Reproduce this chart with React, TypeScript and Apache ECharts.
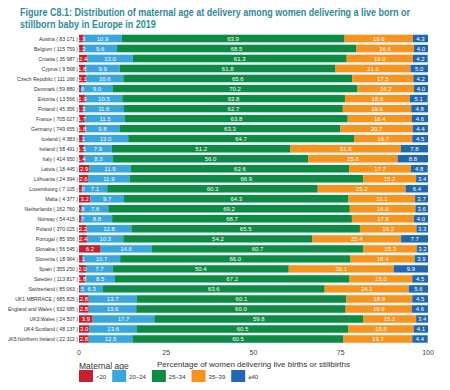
import React, { useEffect, useRef } from "react";
import * as echarts from "echarts";

const countries = [
  "Austria", "Belgium", "Croatia", "Cyprus", "Czech Republic", "Denmark", "Estonia", "Finland",
  "France", "Germany", "Iceland", "Ireland", "Italy", "Latvia", "Lithuania", "Luxembourg", "Malta",
  "Netherlands", "Norway", "Poland", "Portugal", "Slovakia", "Slovenia", "Spain", "Sweden",
  "Switzerland", "UK1 MBRRACE", "UK2:England and Wales", "UK3:Wales", "UK4:Scotland", "UK5:Northern Ireland",
];
const births = [
  "83 171", "115 759", "35 987", "9 568", "111 166", "59 880", "13 566", "45 356",
  "705 027", "749 655", "4 383", "58 491", "414 950", "18 445", "24 394", "7 105", "4 377",
  "162 760", "54 415", "370 025", "85 956", "56 545", "18 964", "355 250", "113 817",
  "85 063", "685 825", "632 685", "24 507", "48 137", "22 312",
];
const under20 = [1.3, 1.3, 2.4, 1.8, 2.1, 0.6, 1.9, 1.3, 1.7, 1.8, 1.1, 1.5, 1.4, 2.9, 2.6, 1.0, 3.2, 0.8, 0.7, 2.2, 2.4, 6.2, 1.1, 2.0, 1.8, 0.5, 2.8, 2.8, 3.9, 3.0, 2.8];
const age20to24 = [10.9, 9.6, 13.0, 9.9, 10.6, 9.0, 10.5, 11.6, 11.5, 9.8, 13.0, 7.9, 8.3, 11.9, 11.9, 7.1, 9.7, 7.6, 8.8, 12.8, 10.3, 14.6, 10.7, 7.7, 8.5, 6.3, 13.7, 13.6, 17.7, 13.6, 12.5];
const age25to34 = [63.9, 68.5, 61.3, 61.8, 65.6, 70.2, 63.8, 62.7, 63.8, 63.3, 64.7, 51.2, 56.0, 62.6, 66.9, 60.3, 64.3, 69.2, 68.7, 65.5, 54.2, 60.7, 66.0, 50.4, 67.2, 63.6, 60.1, 60.0, 59.8, 60.5, 60.5];
const age35to39 = [19.6, 16.6, 19.0, 21.5, 17.5, 16.2, 18.6, 19.6, 18.4, 20.7, 16.7, 31.6, 25.6, 17.7, 15.2, 25.2, 19.1, 18.8, 17.8, 16.2, 25.4, 15.3, 18.4, 30.1, 18.0, 24.1, 18.9, 19.0, 15.2, 18.8, 19.7];
const age40plus = [4.3, 4.0, 4.2, 5.0, 4.2, 4.0, 5.1, 4.8, 4.6, 4.4, 4.5, 7.8, 8.8, 4.8, 3.4, 6.4, 3.7, 3.6, 4.0, 3.3, 7.7, 3.2, 3.9, 9.9, 4.5, 5.6, 4.5, 4.6, 3.4, 4.1, 4.4];

const seriesNames = ["<20", "20\u201324", "25\u201334", "35\u201339", "\u226540"];
const seriesColors = ["#c8202f", "#3aa6dd", "#0f8a44", "#f7941d", "#2066b0"];
const xTicks = [0, 25, 50, 75, 100];

export default function App() {
  const ref = useRef<HTMLDivElement>(null);
  useEffect(() => {
    if (!ref.current) return;
    const chart = echarts.init(ref.current, undefined, { renderer: "svg" });
    const values = [under20, age20to24, age25to34, age35to39, age40plus];
    const labels = countries.map((c, i) => `${c} ( ${births[i]} )`);
    chart.setOption({
      animation: false,
      backgroundColor: "#ffffff",
      grid: {
        left: 79,
        right: 22,
        top: 33.5,
        bottom: 46,
        show: true,
        backgroundColor: "#e8f6f8",
        borderWidth: 0,
        containLabel: false,
        outerBoundsMode: "none",
      },
      legend: {
        data: seriesNames,
        left: 79,
        top: 370,
        padding: 0,
        icon: "rect",
        itemWidth: 14,
        itemHeight: 14,
        itemGap: 6,
        selectedMode: false,
        textStyle: { fontSize: 6, color: "#333", fontFamily: "'Liberation Sans', sans-serif", padding: [0, 0, 0, -2] },
      },
      graphic: [
        {
          type: "text",
          x: 20,
          y: 6,
          scaleX: 0.9,
          silent: true,
          style: {
            text: "Figure C8.1: Distribution of maternal age at delivery among women delivering a live born or\nstillborn baby in Europe in 2019",
            fontSize: 10,
            fontWeight: "bold",
            lineHeight: 12,
            fill: "#2d8b9b",
            fontFamily: "'Liberation Sans', sans-serif",
          },
        },
        {
          type: "text",
          x: 79,
          y: 361,
          silent: true,
          style: { text: "Maternal age", fontSize: 8.5, fill: "#333", fontFamily: "'Liberation Sans', sans-serif" },
        },
      ],
      xAxis: {
        type: "value",
        min: 0,
        max: 100,
        interval: 25,
        axisLine: { show: false },
        axisTick: { show: false },
        splitLine: { show: false },
        axisLabel: {
          fontSize: 7,
          color: "#444",
          margin: 5,
          fontFamily: "'Liberation Sans', sans-serif",
          formatter: (v: number) => (xTicks.includes(v) ? String(v) : ""),
        },
        name: "Percentage of women delivering live births or stillbirths",
        nameLocation: "middle",
        nameGap: 13,
        nameTextStyle: { fontSize: 8, color: "#333", fontFamily: "'Liberation Sans', sans-serif", verticalAlign: "top" },
      },
      yAxis: {
        type: "category",
        data: labels,
        inverse: true,
        axisLine: { show: false },
        axisTick: { show: false },
        axisLabel: {
          fontSize: 5.1,
          color: "#333",
          margin: 1,
          fontFamily: "'Liberation Sans', sans-serif",
        },
      },
      series: values.map((arr, k) => ({
        name: seriesNames[k],
        type: "bar",
        stack: "total",
        barWidth: 7.4,
        data: arr,
        silent: true,
        emphasis: { disabled: true },
        itemStyle: { color: seriesColors[k] },
        label: {
          show: true,
          position: "inside",
          color: "#ffffff",
          fontSize: 6,
          fontFamily: "'Liberation Sans', sans-serif",
          formatter: (p: any) => Number(p.value).toFixed(1),
        },
        labelLayout: { hideOverlap: false },
      })),
    });
    return () => chart.dispose();
  }, []);
  return <div ref={ref} style={{ width: 450, height: 390, margin: -8 }} />;
}
